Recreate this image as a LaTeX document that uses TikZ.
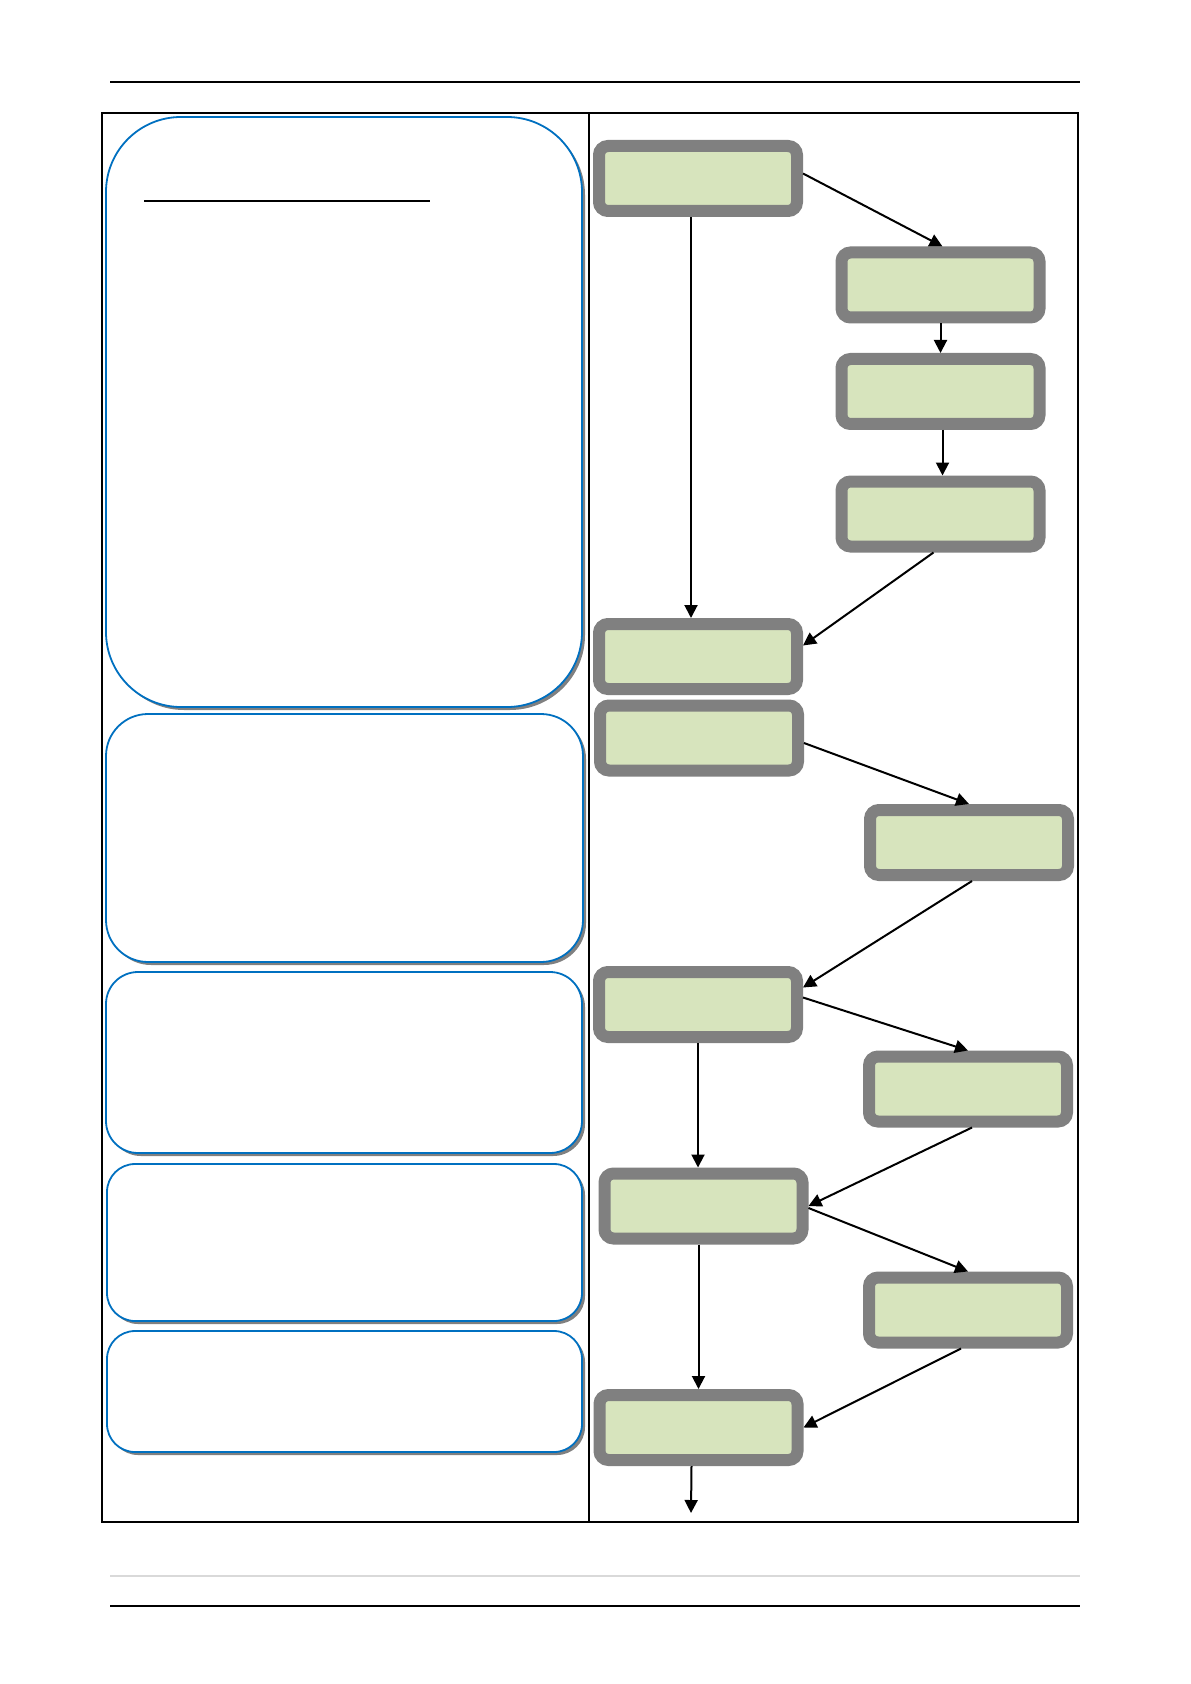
\documentclass[tikz,border=0pt]{standalone}
\usepackage[HTML]{xcolor}
\usepackage{tikz}
\usetikzlibrary{arrows.meta,shadows}

\definecolor{stepfill}{HTML}{D7E4BD}
\definecolor{stepline}{HTML}{808080}
\definecolor{noteline}{HTML}{0070C0}

\begin{document}
\begin{tikzpicture}[
    x=0.5pt, y=-0.5pt,
    >={Triangle[length=6.5pt,width=6.5pt]},
    stepbox/.style={draw=stepline, fill=stepfill, line width=6pt,
        rounded corners=4.5pt, minimum width=99pt, minimum height=32.5pt,
        inner sep=0pt},
    notebox/.style={draw=noteline, fill=white, line width=0.9pt,
        drop shadow={shadow xshift=1.5pt, shadow yshift=-1.5pt,
            fill=stepline, opacity=1}},
    link/.style={->, line width=1pt}
]
    \useasboundingbox (0,0) rectangle (1190,1684);

    % 1. Page rules and the table
    \draw[line width=0.6pt] (110,82) -- (1080,82);
    \draw[line width=0.7pt] (102,113) rectangle (1078,1522);
    \draw[line width=0.7pt] (589,113) -- (589,1522);
    \draw[black!15, line width=0.8pt] (110,1576) -- (1080,1576);
    \draw[line width=0.7pt] (110,1606) -- (1080,1606);

    % 2. Left column: note panels
    \draw[notebox, rounded corners=37.5pt] (106,117) rectangle (582,707);
    \draw[line width=0.6pt] (144,201) -- (430,201);
    \draw[notebox, rounded corners=21pt] (106,714) rectangle (583,962);
    \draw[notebox, rounded corners=16pt] (106,972) rectangle (582,1153);
    \draw[notebox, rounded corners=14pt] (107,1164) rectangle (582,1321);
    \draw[notebox, rounded corners=14pt] (107,1331) rectangle (582,1452);

    % 3. Right column: the steps
    \node[stepbox] (b1) at (698,178.5) {};
    \node[stepbox] (b2) at (940.5,285) {};
    \node[stepbox] (b3) at (940.5,391.5) {};
    \node[stepbox] (b4) at (940.5,514) {};
    \node[stepbox] (b5) at (698,656.5) {};
    \node[stepbox] (b6) at (699,738) {};
    \node[stepbox] (b7) at (969,842.5) {};
    \node[stepbox] (b8) at (698,1004.5) {};
    \node[stepbox] (b9) at (968,1089) {};
    \node[stepbox] (b10) at (703.5,1206) {};
    \node[stepbox] (b11) at (968,1310) {};
    \node[stepbox] (b12) at (698.5,1427.5) {};
    \coordinate (out) at (691,1513);

    % 4. Draw the arrows
    \draw[link] ([yshift=2.5pt]b1.east) -- ([xshift=1pt]b2.north);
    \draw[link] ([xshift=-3.5pt]b1.south) -- ([xshift=-3.5pt]b5.north);
    \draw[link] (b2.south) -- (b3.north);
    \draw[link] ([xshift=1pt]b3.south) -- ([xshift=1pt]b4.north);
    \draw[link] ([xshift=-3.5pt]b4.south) -- ([yshift=5.5pt]b5.east);

    \draw[link] ([yshift=-2.5pt]b6.east) -- (b7.north);
    \draw[link] ([xshift=1.5pt]b7.south) -- ([yshift=8.5pt]b8.east);
    \draw[link] ([yshift=3.5pt]b8.east) -- (b9.north);
    \draw[link] (b8.south) -- (b8.south |- b10.north);

    \draw[link] ([xshift=2pt]b9.south) -- (b10.east);
    \draw[link] ([yshift=-1pt]b10.east) -- (b11.north);
    \draw[link] (b12.north |- b10.south) -- (b12.north);
    \draw[link] ([xshift=-3.5pt]b11.south) -- (b12.east);

    \draw[link] ([xshift=-3.5pt]b12.south) -- (out);

\end{tikzpicture}
\end{document}
